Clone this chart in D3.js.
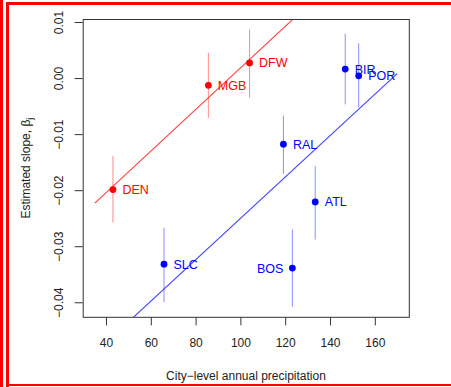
<!DOCTYPE html>
<html>
<head>
<meta charset="utf-8">
<script src="https://cdn.jsdelivr.net/npm/d3@7"></script>
<style>
  body { margin: 0; background: #fff; }
  text { font-family: "Liberation Sans", Arial, Helvetica, sans-serif; }
</style>
</head>
<body>
<div id="chart"></div>
<script>
// city estimates
var cities = ["DEN", "MGB", "DFW", "SLC", "RAL", "BOS", "ATL", "BIR", "POR"];
var groups = ["red", "red", "red", "blue", "blue", "blue", "blue", "blue", "blue"];
var precip = [43.1, 85.7, 104.1, 65.9, 119.2, 123.2, 133.4, 146.8, 152.8];
var slopes = [-0.0199, -0.0013, 0.0027, -0.0332, -0.0118, -0.0339, -0.0221, 0.0016, 0.0004];
var lower = [-0.0258, -0.0071, -0.0035, -0.0400, -0.0171, -0.0408, -0.0288, -0.0047, -0.0052];
var upper = [-0.0139, 0.0045, 0.0087, -0.0267, -0.0067, -0.0270, -0.0157, 0.0079, 0.0062];
var labelLeft = ["BOS"];

// fitted lines per group
var fitGroups = ["red", "blue"];
var fitIntercepts = [-0.0353, -0.06195];
var fitSlopes = [0.000371, 0.000369];
var fitRange = [35, 170];

var xTicks = [40, 60, 80, 100, 120, 140, 160];
var yTicks = [0.01, 0.00, -0.01, -0.02, -0.03, -0.04];

var xTitle = "City\u2212level annual precipitation";
var yTitle = "Estimated slope, \u03b2";

var W = 451, H = 387;
var margin = {top: 19, right: 41.7, bottom: 69.7, left: 82.7};
var width = W - margin.left - margin.right,
    height = H - margin.top - margin.bottom;

var colors = {red: "#ff0000", blue: "#0000ff"};

var svg = d3.select("#chart").append("svg")
  .attr("width", W)
  .attr("height", H);

svg.append("rect").attr("width", W).attr("height", H).attr("fill", "#fff");

// red frame around the figure
svg.append("rect").attr("x", 0).attr("y", 0).attr("width", 3).attr("height", H).attr("fill", "#ff0000");
svg.append("rect").attr("x", 6).attr("y", 2).attr("width", 3).attr("height", H - 2).attr("fill", "#ff0000");
svg.append("rect").attr("x", 6).attr("y", 2).attr("width", W - 6).attr("height", 3).attr("fill", "#ff0000");
svg.append("rect").attr("x", 6).attr("y", 384).attr("width", W - 6).attr("height", 2).attr("fill", "#ff0000");

var x = d3.scaleLinear().domain([29.6, 175.4]).range([0, width]);
var y = d3.scaleLinear().domain([-0.04268, 0.01054]).range([height, 0]);

var g = svg.append("g")
  .attr("transform", "translate(" + margin.left + "," + margin.top + ")");

g.append("clipPath").attr("id", "plotClip")
  .append("rect").attr("width", width).attr("height", height);

var data = cities.map(function(c, i) {
  return {city: c, group: groups[i], x: precip[i], y: slopes[i], lo: lower[i], hi: upper[i]};
});

var plot = g.append("g").attr("clip-path", "url(#plotClip)");

// error bars
plot.selectAll("line.err")
  .data(data)
  .enter().append("line")
  .attr("class", "err")
  .attr("x1", function(d) { return x(d.x); })
  .attr("x2", function(d) { return x(d.x); })
  .attr("y1", function(d) { return y(d.hi); })
  .attr("y2", function(d) { return y(d.lo); })
  .attr("stroke", function(d) { return colors[d.group]; })
  .attr("stroke-opacity", 0.45)
  .attr("stroke-width", 1);

// fitted lines
plot.selectAll("line.fit")
  .data(fitGroups)
  .enter().append("line")
  .attr("class", "fit")
  .attr("x1", x(fitRange[0]))
  .attr("x2", x(fitRange[1]))
  .attr("y1", function(d, i) { return y(fitIntercepts[i] + fitSlopes[i] * fitRange[0]); })
  .attr("y2", function(d, i) { return y(fitIntercepts[i] + fitSlopes[i] * fitRange[1]); })
  .attr("stroke", function(d) { return colors[d]; })
  .attr("stroke-opacity", 0.75)
  .attr("stroke-width", 1.1);

// points
plot.selectAll("circle")
  .data(data)
  .enter().append("circle")
  .attr("cx", function(d) { return x(d.x); })
  .attr("cy", function(d) { return y(d.y); })
  .attr("r", 3.4)
  .attr("fill", function(d) { return colors[d.group]; });

// point labels
g.selectAll("text.lab")
  .data(data)
  .enter().append("text")
  .attr("class", "lab")
  .attr("x", function(d) {
    return labelLeft.indexOf(d.city) >= 0 ? x(d.x) - 9 : x(d.x) + 9.5;
  })
  .attr("y", function(d) { return y(d.y); })
  .attr("dy", "0.36em")
  .style("text-anchor", function(d) {
    return labelLeft.indexOf(d.city) >= 0 ? "end" : "start";
  })
  .attr("font-size", 12.5)
  .attr("fill", function(d) { return colors[d.group]; })
  .text(function(d) { return d.city; });

// box
g.append("rect")
  .attr("x", 0.5).attr("y", 0.5)
  .attr("width", width - 0.5).attr("height", height - 0.5)
  .attr("fill", "none")
  .attr("stroke", "#333")
  .attr("stroke-width", 1);

// x axis
var xAxis = g.append("g")
  .attr("transform", "translate(0," + height + ")")
  .call(d3.axisBottom(x).tickValues(xTicks).tickSize(8).tickPadding(13.5).tickFormat(d3.format("d")));
xAxis.select(".domain").remove();
xAxis.selectAll("line").attr("stroke", "#333");
xAxis.selectAll("text")
  .attr("font-size", 12)
  .attr("fill", "#222")
  .style("font-family", "'Liberation Sans', Arial, Helvetica, sans-serif");

// y axis
var yAxis = g.append("g")
  .call(d3.axisLeft(y).tickValues(yTicks).tickSize(8).tickFormat(function(d) {
    return d3.format(".2f")(d).replace("-", "\u2212");
  }));
yAxis.select(".domain").remove();
yAxis.selectAll("line").attr("stroke", "#333");
yAxis.selectAll("text")
  .attr("transform", "rotate(-90)")
  .attr("x", 0)
  .attr("y", -20)
  .attr("dy", 0)
  .style("text-anchor", "middle")
  .attr("font-size", 12)
  .attr("fill", "#222")
  .style("font-family", "'Liberation Sans', Arial, Helvetica, sans-serif");

// titles
svg.append("text")
  .attr("x", margin.left + width / 2)
  .attr("y", 379.5)
  .style("text-anchor", "middle")
  .attr("font-size", 12)
  .attr("fill", "#222")
  .text(xTitle);

var yt = svg.append("text")
  .attr("transform", "translate(29.5," + (margin.top + height / 2) + ") rotate(-90)")
  .style("text-anchor", "middle")
  .attr("font-size", 12)
  .attr("fill", "#222");
yt.append("tspan").text(yTitle);
yt.append("tspan").attr("font-size", 9).attr("dy", 3).text("j");
</script>
</body>
</html>
